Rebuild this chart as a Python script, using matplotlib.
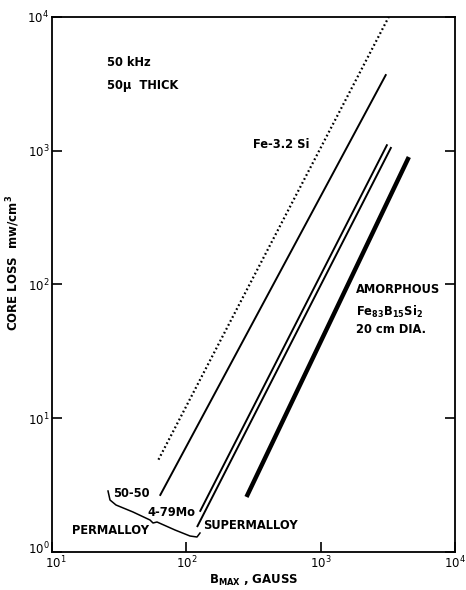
import matplotlib
matplotlib.use("Agg")
import matplotlib.pyplot as plt
import matplotlib.transforms as mtrans

plt.rcParams['font.family'] = ['DejaVu Sans']
plt.rcParams['mathtext.default'] = 'regular'

# end points of each core-loss line (B in gauss, loss in mw/cm^3)
b_fesi = [62, 3210]
loss_fesi = [4.9, 10000]
b_5050 = [64, 3050]
loss_5050 = [2.67, 3680]
b_479mo = [127, 3110]
loss_479mo = [2.03, 1100]
b_super = [121, 3330]
loss_super = [1.56, 1050]
b_amor = [285, 4460]
loss_amor = [2.67, 867]

xticks = [1e1, 1e2, 1e3, 1e4]
xticklabels = ['$10^{1}$', '$10^{2}$', '$10^{3}$', '$10^{4}$']
yticks = [1e0, 1e1, 1e2, 1e3, 1e4]
yticklabels = ['$10^{0}$', '$10^{1}$', '$10^{2}$', '$10^{3}$', '$10^{4}$']

fig = plt.figure(figsize=(4.66, 5.90), dpi=100)
ax = fig.add_axes([0.1116, 0.0644, 0.8648, 0.9068])

ax.plot(b_fesi, loss_fesi, color='black', lw=1.6, ls=(0, (0.8, 1.2)))
ax.plot(b_5050, loss_5050, color='black', lw=1.4)
ax.plot(b_479mo, loss_479mo, color='black', lw=1.4)
ax.plot(b_super, loss_super, color='black', lw=1.4)
ax.plot(b_amor, loss_amor, color='black', lw=3.2)

ax.set_xscale('log')
ax.set_yscale('log')
ax.set_xlim(1e1, 1e4)
ax.set_ylim(1e0, 1e4)
ax.set_xticks(xticks)
ax.set_xticklabels(xticklabels)
ax.set_yticks(yticks)
ax.set_yticklabels(yticklabels)
ax.minorticks_off()
ax.tick_params(direction='in', length=7, width=1.2, labelsize=8.5,
               right=True, top=False)
ax.tick_params(axis='x', pad=2)
ax.tick_params(axis='y', pad=2)
for s in ax.spines.values():
    s.set_linewidth(1.3)

# keep the corner labels 10^0 and 10^1 apart
lbl = ax.get_yticklabels()[0]
lbl.set_transform(lbl.get_transform() + mtrans.ScaledTranslation(0, 3 / 72, fig.dpi_scale_trans))
lbl = ax.get_xticklabels()[0]
lbl.set_transform(lbl.get_transform() + mtrans.ScaledTranslation(3 / 72, 0, fig.dpi_scale_trans))

tkw = dict(fontsize=8.3, fontweight='bold', ha='left', va='center')
ax.text(25.7, 4530, '50 kHz', **tkw)
ax.text(25.7, 3100, '50μ  THICK', **tkw)
ax.text(316, 1104, 'Fe-3.2 Si', **tkw)
ax.text(1824, 91, 'AMORPHOUS', **tkw)
ax.text(1824, 62.3, 'Fe$_{83}$B$_{15}$Si$_{2}$', **tkw)
ax.text(1824, 45.7, '20 cm DIA.', **tkw)
ax.text(28.5, 2.76, '50-50', **tkw)
ax.text(51.2, 1.99, '4-79Mo', **tkw)
ax.text(14.1, 1.46, 'PERMALLOY', **tkw)
ax.text(134, 1.59, 'SUPERMALLOY', **tkw)

# brace grouping the two permalloys
brace_x = [108, 110, 116, 133, 150, 153, 157, 175, 190, 197, 200]
brace_y = [491, 500, 505, 512, 520, 523, 522, 530, 536, 537, 533]
ax.plot([(px - 52) / 403 for px in brace_x],
        [(552 - py) / 535 for py in brace_y],
        transform=ax.transAxes, color='black', lw=1.1, clip_on=False)

ax.set_xlabel('B$_{MAX}$ , GAUSS', fontsize=8.5, fontweight='bold', labelpad=1)
ax.set_ylabel('CORE LOSS  mw/cm$^{3}$', fontsize=8.5, fontweight='bold')
ax.yaxis.set_label_coords(-0.075, 0.54)

fig.savefig('out.png', dpi=100)
